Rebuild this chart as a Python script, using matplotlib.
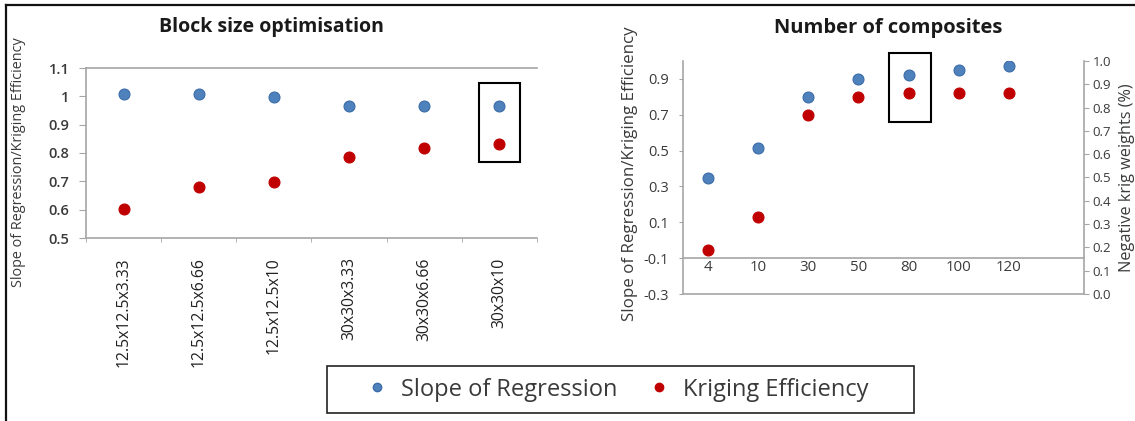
import matplotlib
matplotlib.use("Agg")
import matplotlib.pyplot as plt
from matplotlib.patches import Rectangle
from matplotlib.lines import Line2D
import numpy as np

plt.rcParams['font.family'] = ['Open Sans', 'DejaVu Sans']

# ---- data ----
block_cats = ['12.5x12.5x3.33', '12.5x12.5x6.66', '12.5x12.5x10',
              '30x30x3.33', '30x30x6.66', '30x30x10']
block_slope = [1.01, 1.01, 0.997, 0.965, 0.965, 0.965]
block_ke = [0.604, 0.681, 0.696, 0.786, 0.818, 0.833]
block_yticks = [0.5, 0.6, 0.7, 0.8, 0.9, 1.0, 1.1]
block_yticklabels = ['0.5', '0.6', '0.7', '0.8', '0.9', '1', '1.1']

comp_cats = ['4', '10', '30', '50', '80', '100', '120']
comp_slope = [0.35, 0.517, 0.80, 0.90, 0.92, 0.948, 0.97]
comp_ke = [-0.054, 0.128, 0.698, 0.797, 0.819, 0.82, 0.82]
comp_yticks = [-0.3, -0.1, 0.1, 0.3, 0.5, 0.7, 0.9]
comp_y2ticks = [0.0, 0.1, 0.2, 0.3, 0.4, 0.5, 0.6, 0.7, 0.8, 0.9, 1.0]

W, H = 1135, 421
fig = plt.figure(figsize=(W / 100, H / 100), dpi=100)
fig.patch.set_facecolor('white')

def box(x0, y0, x1, y1):
    return [x0 / W, 1 - y1 / H, (x1 - x0) / W, (y1 - y0) / H]

BLUE = '#4F81BD'
BLUE_E = '#3C6DA8'
RED = '#C00000'
GRAY = '#A6A6A6'
TXT = '#3a3a3a'

# ---------- left chart ----------
ax1 = fig.add_axes(box(86, 68, 537, 238))
x1 = np.arange(len(block_cats))
ax1.scatter(x1, block_slope, s=62, color=BLUE, edgecolors=BLUE_E, linewidths=0.8, zorder=3)
ax1.scatter(x1, block_ke, s=62, color=RED, edgecolors=RED, linewidths=0.8, zorder=3)
ax1.set_xlim(-0.5, len(block_cats) - 0.5)
ax1.set_ylim(0.5, 1.1)
ax1.set_yticks(block_yticks)
ax1.set_yticklabels(block_yticklabels)
ax1.set_xticks(x1)
ax1.set_xticklabels(block_cats, rotation=90, va='top', ha='center')
ax1.set_xticks(np.arange(len(block_cats) + 1) - 0.5, minor=True)
ax1.tick_params(axis='x', which='major', length=0, pad=14, labelsize=11.3, labelcolor='#202020')
ax1.tick_params(axis='x', which='minor', length=3, color=GRAY, direction='out')
ax1.tick_params(axis='y', length=5, color=GRAY, labelsize=10.5, labelcolor=TXT, pad=7)
for lab in ax1.get_yticklabels():
    lab.set_fontweight('semibold')
for s in ['left', 'bottom', 'top']:
    ax1.spines[s].set_color(GRAY)
    ax1.spines[s].set_linewidth(1.2)
ax1.spines['right'].set_visible(False)
ax1.add_patch(Rectangle((4.73, 0.768), 0.54, 0.279, fill=False, edgecolor='black',
                        linewidth=1.5, clip_on=False, zorder=4))
fig.text(271 / W, 1 - 27 / H, 'Block size optimisation', ha='center', va='center',
         fontsize=14, fontweight='bold', color='#1a1a1a')
fig.text(19 / W, 1 - 162 / H, 'Slope of Regression/Kriging Efficiency', rotation=90,
         ha='center', va='center', fontsize=10.4, color=TXT)

# ---------- right chart ----------
ax2 = fig.add_axes(box(683, 61, 1084, 294))
x2 = np.arange(len(comp_cats))
ax2.scatter(x2, comp_slope, s=62, color=BLUE, edgecolors=BLUE_E, linewidths=0.8, zorder=3)
ax2.scatter(x2, comp_ke, s=62, color=RED, edgecolors=RED, linewidths=0.8, zorder=3)
ax2.set_xlim(-0.5, len(comp_cats) + 0.5)
ax2.set_ylim(-0.3, 1.0)
ax2.set_yticks(comp_yticks)
ax2.set_yticklabels(['%.1f' % v for v in comp_yticks])
ax2.set_xticks(x2)
ax2.set_xticklabels(comp_cats)
ax2.spines['bottom'].set_position(('data', -0.1))
ax2.axhline(-0.3, color=GRAY, linewidth=1.2, clip_on=False)
ax2.tick_params(axis='x', length=0, pad=1, labelsize=10.8, labelcolor=TXT)
ax2.tick_params(axis='y', length=3, color=GRAY, labelsize=10.5, labelcolor=TXT, pad=7)
for s in ['left', 'bottom']:
    ax2.spines[s].set_color(GRAY)
    ax2.spines[s].set_linewidth(1.2)
ax2.spines['top'].set_visible(False)
ax2.spines['right'].set_visible(False)
ax2.add_patch(Rectangle((3.61, 0.659), 0.84, 0.386, fill=False, edgecolor='black',
                        linewidth=1.5, clip_on=False, zorder=4))

ax3 = ax2.twinx()
ax3.set_ylim(0, 1.0)
ax3.set_yticks(comp_y2ticks)
ax3.set_yticklabels(['%.1f' % v for v in comp_y2ticks])
ax3.tick_params(axis='y', length=3.5, color=GRAY, labelsize=9.5, labelcolor=TXT, pad=2.5)
for s in ['left', 'bottom', 'top']:
    ax3.spines[s].set_visible(False)
ax3.spines['right'].set_color(GRAY)
ax3.spines['right'].set_linewidth(1.2)

fig.text(888 / W, 1 - 28 / H, 'Number of composites', ha='center', va='center',
         fontsize=14.5, fontweight='bold', color='#1a1a1a')
fig.text(630 / W, 1 - 174 / H, 'Slope of Regression/Kriging Efficiency', rotation=90,
         ha='center', va='center', fontsize=12.2, color=TXT)
fig.text(1127 / W, 1 - 178 / H, 'Negative krig weights (%)', rotation=90,
         ha='center', va='center', fontsize=11.7, color=TXT)

# ---------- legend ----------
handles = [Line2D([], [], linestyle='none', marker='o', markersize=6,
                  markerfacecolor=BLUE, markeredgecolor=BLUE_E),
           Line2D([], [], linestyle='none', marker='o', markersize=6,
                  markerfacecolor=RED, markeredgecolor=RED)]
fig.legend(handles, ['Slope of Regression', 'Kriging Efficiency'], ncol=2,
           loc='center', bbox_to_anchor=(617 / W, 1 - 389.5 / H), frameon=False,
           fontsize=17, handlelength=1.0, handletextpad=0.5, columnspacing=1.27,
           labelcolor=TXT)
fig.patches.append(Rectangle((327 / W, 1 - 413 / H), (914 - 327) / W, 47 / H,
                             transform=fig.transFigure, fill=False,
                             edgecolor='#222222', linewidth=1.2))

# ---------- outer frame ----------
fig.add_artist(Line2D([6 / W, 1], [1 - 5 / H, 1 - 5 / H], transform=fig.transFigure,
                      color='#111111', linewidth=1.6))
fig.add_artist(Line2D([6 / W, 6 / W], [0, 1 - 5 / H], transform=fig.transFigure,
                      color='#111111', linewidth=1.6))

fig.savefig('out.png', dpi=100)
